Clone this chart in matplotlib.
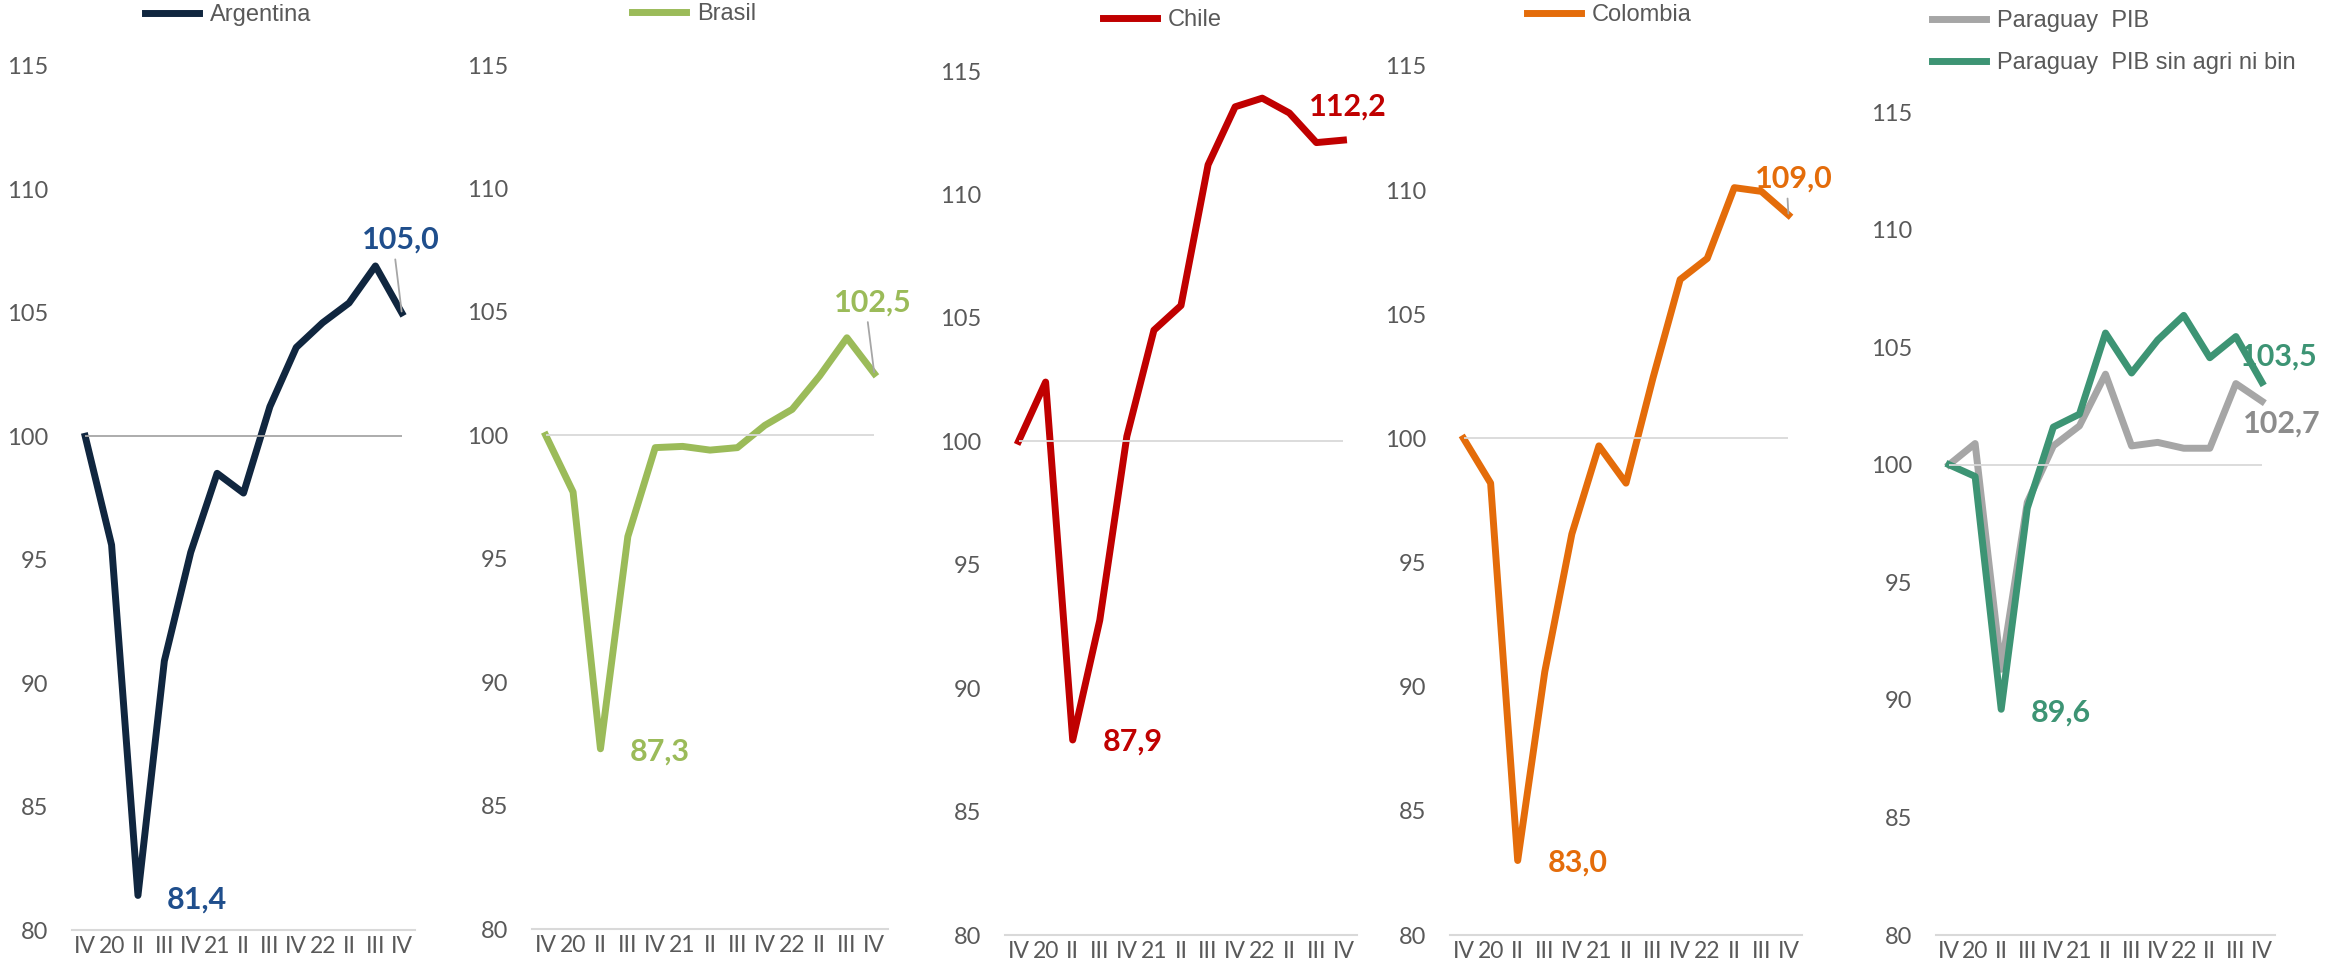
import matplotlib
matplotlib.use("Agg")
import matplotlib.pyplot as plt

# quarters: IV-2019 .. IV-2022
quarters = ["IV", "20", "II", "III", "IV", "21", "II", "III", "IV", "22", "II", "III", "IV"]
y_ticks = [80, 85, 90, 95, 100, 105, 110, 115]

argentina = [100.0, 95.6, 81.4, 90.9, 95.3, 98.5, 97.7, 101.2, 103.6, 104.6, 105.4, 106.9, 105.0]
brasil = [100.0, 97.7, 87.3, 95.9, 99.5, 99.55, 99.4, 99.5, 100.4, 101.05, 102.4, 103.95, 102.5]
chile = [100.0, 102.4, 87.9, 92.75, 100.2, 104.5, 105.5, 111.2, 113.55, 113.9, 113.3, 112.1, 112.2]
colombia = [100.0, 98.2, 83.0, 90.6, 96.15, 99.7, 98.2, 102.45, 106.4, 107.25, 110.1, 109.95, 109.0]
paraguay_pib = [100.0, 100.9, 91.3, 98.4, 100.8, 101.65, 103.85, 100.8, 100.95, 100.7, 100.7, 103.45, 102.7]
paraguay_sin = [100.0, 99.5, 89.6, 98.15, 101.6, 102.15, 105.6, 103.9, 105.3, 106.35, 104.55, 105.45, 103.5]

W, H = 2341, 968
fig = plt.figure(figsize=(W / 100, H / 100), dpi=100)

TICK_FONT = "Lato"
LEG_FONT = "Liberation Sans"
GRAY_TXT = "#595959"
LW = 5


def make_axes(left, right, top, bottom):
    ax = fig.add_axes([left / W, 1 - bottom / H, (right - left) / W, (bottom - top) / H])
    ax.set_xlim(-0.5, len(quarters) - 0.5)
    ax.set_ylim(80, 115)
    ax.set_yticks(y_ticks)
    ax.set_yticklabels([str(v) for v in y_ticks], fontfamily=TICK_FONT, fontsize=17, color=GRAY_TXT)
    ax.set_xticks(range(len(quarters)))
    ax.set_xticklabels(quarters, fontfamily=TICK_FONT, fontsize=16.5, color=GRAY_TXT)
    ax.tick_params(axis="y", length=0, pad=17)
    ax.tick_params(axis="x", length=0, pad=4)
    for s in ["left", "top", "right"]:
        ax.spines[s].set_visible(False)
    ax.spines["bottom"].set_color("#D9D9D9")
    ax.spines["bottom"].set_linewidth(1.5)
    ax.patch.set_alpha(0)
    return ax


def ref_line(ax, color):
    ax.hlines(100, 0, len(quarters) - 1, color=color, lw=1.3, zorder=5)


def label(ax, i, series, text, color, off, ha="left", leader=False, relpos=(0.5, 0)):
    kw = {}
    if leader:
        kw["arrowprops"] = dict(arrowstyle="-", color="#A6A6A6", lw=1.3,
                                shrinkA=2, shrinkB=1, relpos=relpos)
    ax.annotate(text, xy=(i, series[i]), xytext=off, textcoords="offset pixels",
                ha=ha, va="center", fontsize=22, fontweight="bold",
                fontfamily=TICK_FONT, color=color, zorder=6, **kw)


def legend(ax, handles, x, y, spacing=0.5):
    leg = ax.legend(handles=handles, loc="center left", bbox_to_anchor=(x / W, 1 - y / H),
                    bbox_transform=fig.transFigure, frameon=False, borderpad=0,
                    borderaxespad=0, handlelength=2.3, handletextpad=0.45,
                    labelspacing=spacing, prop={"family": LEG_FONT, "size": 17})
    for t in leg.get_texts():
        t.set_color(GRAY_TXT)


x = range(len(quarters))

# Argentina
ax1 = make_axes(72, 415, 66, 930)
l1, = ax1.plot(x, argentina, color="#10263F", lw=LW, label="Argentina")
ref_line(ax1, "#A6A6A6")
label(ax1, 2, argentina, "81,4", "#1F4E8C", (29, -4))
label(ax1, 12, argentina, "105,0", "#1F4E8C", (-1, 73), ha="center", leader=True, relpos=(0.42, 0))
legend(ax1, [l1], 145, 15)

# Brasil
ax2 = make_axes(532, 888, 65, 929)
l2, = ax2.plot(x, brasil, color="#9BBB59", lw=LW, label="Brasil")
ref_line(ax2, "#D9D9D9")
label(ax2, 2, brasil, "87,3", "#9BBB59", (29, -3))
label(ax2, 12, brasil, "102,5", "#9BBB59", (-1, 71), ha="center", leader=True, relpos=(0.42, 0))
legend(ax2, [l2], 632, 14)

# Chile
ax3 = make_axes(1005, 1357, 71, 935)
l3, = ax3.plot(x, chile, color="#C00000", lw=LW, label="Chile")
ref_line(ax3, "#D9D9D9")
label(ax3, 2, chile, "87,9", "#C00000", (30, -2))
label(ax3, 12, chile, "112,2", "#C00000", (4, 34), ha="center")
legend(ax3, [l3], 1103, 20)

# Colombia
ax4 = make_axes(1450, 1802, 66, 935)
l4, = ax4.plot(x, colombia, color="#E46C0A", lw=LW, label="Colombia")
ref_line(ax4, "#D9D9D9")
label(ax4, 2, colombia, "83,0", "#E46C0A", (30, -2))
label(ax4, 12, colombia, "109,0", "#E46C0A", (5, 36), ha="center", leader=True, relpos=(0.42, 0))
legend(ax4, [l4], 1527, 15)

# Paraguay
ax5 = make_axes(1936, 2275, 112, 935)
l5a, = ax5.plot(x, paraguay_pib, color="#A6A6A6", lw=LW, label="Paraguay  PIB")
l5b, = ax5.plot(x, paraguay_sin, color="#3D9474", lw=LW, label="Paraguay  PIB sin agri ni bin")
ref_line(ax5, "#D9D9D9")
label(ax5, 2, paraguay_sin, "89,6", "#3D9474", (30, -3))
label(ax5, 12, paraguay_sin, "103,5", "#3D9474", (17, 26), ha="center")
label(ax5, 12, paraguay_pib, "102,7", "#8C8C8C", (20, -22), ha="center")
legend(ax5, [l5a, l5b], 1932, 42, spacing=0.85)

fig.savefig("out.png", dpi=100)
